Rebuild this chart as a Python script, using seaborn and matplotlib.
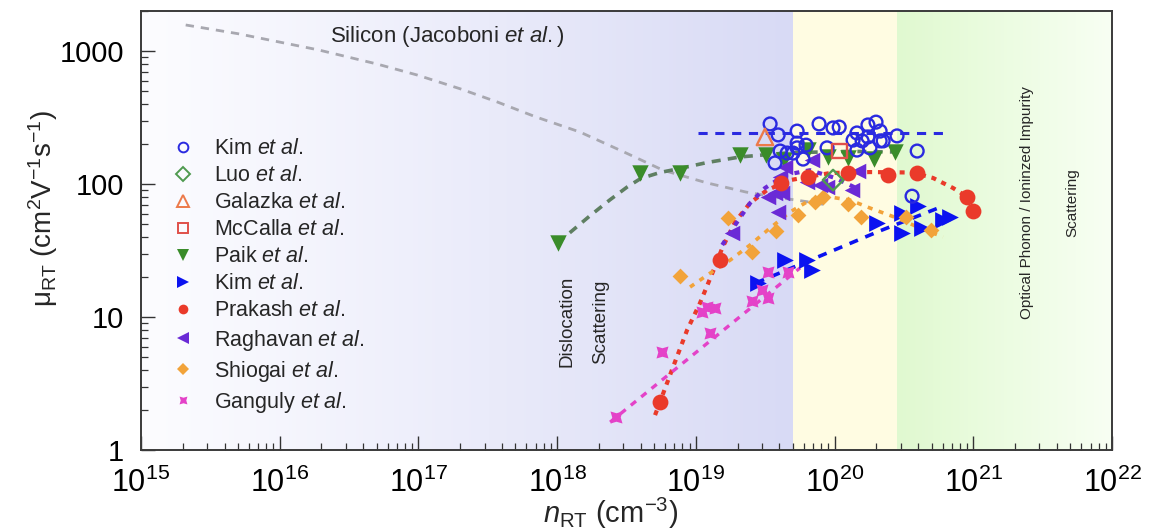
import numpy as np
import pandas as pd
import matplotlib
matplotlib.use("Agg")
import matplotlib.pyplot as plt
import seaborn as sns
from matplotlib.ticker import LogLocator, NullFormatter, FixedLocator, FixedFormatter
from matplotlib.lines import Line2D

# ---------------- data ----------------
si_n = [2.1e15, 5e15, 1.9e16, 5e16, 9.8e16, 2e17, 3.7e17, 7e17, 1.46e18, 3e18, 5.8e18, 1.2e19, 2.3e19, 4e19, 6.7e19, 9.3e19]
si_mu = [1570, 1350, 1020, 800, 660, 520, 414, 320, 246, 175, 127, 102, 87, 79, 73, 69]

kim1_n = [3.43e19, 3.92e19, 5.37e19, 5.37e19, 6.23e19, 5.37e19, 4.55e19, 4.05e19, 5.02e19,
          5.93e19, 3.72e19, 7.73e19, 9.75e19, 1.08e20, 1.74e20, 1.99e20, 2.13e20, 1.45e20,
          1.74e20, 2.82e20, 1.36e20, 1.58e20, 2.13e20, 2.24e20, 8.83e19, 1.45e20, 1.80e20,
          3.94e20, 3.62e20]
kim1_mu = [283, 234, 250, 203, 196, 187, 171, 177, 171,
           154, 144, 283, 264, 268, 278, 292, 250, 242,
           226, 230, 214, 211, 211, 211, 187, 180, 187,
           177, 81]
kim1_fit_n = [1.04e19, 6.05e20]
kim1_fit_mu = [242, 242]

luo_n = [9.75e19]
luo_mu = [107]
galazka_n = [3.15e19]
galazka_mu = [226]
mccalla_n = [1.08e20]
mccalla_mu = [177]

paik_n = [1.01e18, 3.96e18, 7.7e18, 2.08e19, 3.2e19, 4.3e19, 6.4e19, 9.0e19, 1.25e20, 1.93e20, 2.73e20]
paik_mu = [36, 121, 121, 165, 165, 151, 180, 160, 157, 155, 174]
paik_fit_n = [1.0e18, 1.2e18, 1.7e18, 2.4e18, 3.2e18, 4.0e18, 5.5e18, 7.7e18, 1.2e19, 2.1e19, 4.8e19, 1.29e20, 2.95e20]
paik_fit_mu = [36, 42, 57, 76, 95, 110, 122, 131, 145, 160, 172, 176, 174]

kim2_n = [2.81e19, 4.4e19, 6.34e19, 6.88e19, 2.02e20, 3.07e20, 3.07e20, 4.0e20, 4.27e20, 6.05e20, 6.8e20]
kim2_mu = [18.0, 26.8, 26.8, 22.6, 50.9, 60.5, 42.8, 68.4, 46.7, 53.6, 56.5]
kim2_fit_n = [2.7e19, 2.13e20, 5.8e20]
kim2_fit_mu = [18, 44.5, 67]

prakash_n = [5.5e18, 1.49e19, 4.11e19, 6.44e19, 1.25e20, 2.43e20, 3.94e20, 9.0e20, 9.97e20]
prakash_mu = [2.3, 26.8, 102, 113, 121, 117, 121, 80, 63]
prakash_fit_n = [5.08e18, 6.85e18, 8.65e18, 1.07e19, 1.33e19, 1.55e19, 1.92e19, 2.46e19, 3.26e19,
                 4.78e19, 9.29e19, 1.80e20, 3.68e20, 5.13e20, 7.15e20, 9.8e20, 1.03e21]
prakash_fit_mu = [1.83, 4.21, 7.98, 12.7, 22.0, 33.0, 52.0, 72.0, 90.0,
                  107, 121, 123, 122, 111, 93.3, 75.8, 61.6]

raghavan_n = [1.82e19, 3.32e19, 3.72e19, 4.19e19, 4.05e19, 4.4e19, 3.92e19, 6.88e19, 6.34e19,
              7.86e19, 8.83e19, 1.48e20, 1.34e20]
raghavan_mu = [42.8, 79.8, 85.6, 85.6, 113, 134, 61.6, 151, 104, 98.3, 94.9, 125, 90.2]
raghavan_fit_n = [1.55e19, 1.92e19, 2.46e19, 3.15e19, 4.4e19, 6.66e19, 1.01e20, 1.53e20]
raghavan_fit_mu = [34.8, 49.2, 71.9, 93.3, 117, 127, 111, 90.2]

shiogai_n = [7.69e18, 1.71e19, 2.54e19, 3.79e19, 5.46e19, 7.23e19, 8.26e19, 1.25e20, 1.55e20, 3.28e20, 4.97e20]
shiogai_mu = [20.3, 55.5, 30.8, 44.3, 58.5, 73.2, 79.8, 70.7, 56.5, 56.5, 45.1]
shiogai_fit_n = [9.08e18, 1.27e19, 1.77e19, 2.46e19, 3.43e19, 4.78e19, 6.66e19, 9.29e19, 1.29e20,
                 1.80e20, 2.82e20, 4.13e20, 6.05e20]
shiogai_fit_mu = [16.8, 21.4, 26.8, 34.8, 46.7, 61.6, 75.8, 79.8, 75.8, 66.0, 55.5, 46.7, 40.0]

ganguly_n = [2.66e18, 5.71e18, 1.11e19, 1.2e19, 1.37e19, 1.27e19, 2.54e19, 3.0e19, 3.32e19, 3.32e19, 4.62e19]
ganguly_mu = [1.77, 5.46, 10.9, 11.9, 11.7, 7.58, 13.2, 16.0, 13.9, 21.8, 21.8]
ganguly_fit_n = [2.41e18, 5.64e19]
ganguly_fit_mu = [1.62, 23.4]

legend_labels = ["Kim", "Luo", "Galazka", "McCalla", "Paik", "Kim", "Prakash", "Raghavan", "Shiogai", "Ganguly"]
x_ticks = [1e15, 1e16, 1e17, 1e18, 1e19, 1e20, 1e21, 1e22]
x_tick_labels = [r"$10^{15}$", r"$10^{16}$", r"$10^{17}$", r"$10^{18}$", r"$10^{19}$",
                 r"$10^{20}$", r"$10^{21}$", r"$10^{22}$"]
y_ticks = [1, 10, 100, 1000]
y_tick_labels = ["1", "10", "100", "1000"]

# ---------------- style ----------------
sns.set_style("ticks")
plt.rcParams["font.family"] = ["Liberation Sans", "DejaVu Sans"]
plt.rcParams["mathtext.fontset"] = "custom"
plt.rcParams["mathtext.rm"] = "Liberation Sans"
plt.rcParams["mathtext.it"] = "Liberation Sans:italic"
plt.rcParams["mathtext.bf"] = "Liberation Sans:bold"

W, H = 1151, 532
fig = plt.figure(figsize=(W / 100, H / 100), dpi=100)
L, R, T, B = 141, 1112, 11, 450
pos = [L / W, 1 - B / H, (R - L) / W, (B - T) / H]

# background gradient bands
bg = fig.add_axes(pos, zorder=0)
ncol = 1000
f = np.linspace(0, 1, ncol)
xb1 = (np.log10(5e19) - 15) / 7
xb2 = (np.log10(2.85e20) - 15) / 7
img = np.zeros((1, ncol, 3))
white = np.array([252, 252, 255]) / 255
lav = np.array([216, 218, 245]) / 255
yel = np.array([255, 252, 226]) / 255
g1 = np.array([224, 249, 208]) / 255
g2 = np.array([248, 255, 243]) / 255
for i, fi in enumerate(f):
    if fi < xb1:
        t = (fi / xb1) ** 1.1
        img[0, i] = white * (1 - t) + lav * t
    elif fi < xb2:
        img[0, i] = yel
    else:
        t = (fi - xb2) / (1 - xb2)
        img[0, i] = g1 * (1 - t) + g2 * t
bg.imshow(img, aspect="auto", extent=(0, 1, 0, 1), interpolation="nearest")
bg.set_axis_off()

ax = fig.add_axes(pos, zorder=1)
ax.patch.set_alpha(0)
ax.set_xscale("log")
ax.set_yscale("log")


def fitline(n, mu, color, dashes, lw):
    sns.lineplot(x=n, y=mu, ax=ax, color=color, sort=False, estimator=None, lw=lw, zorder=2)
    ln = ax.lines[-1]
    ln.set_dashes(dashes)
    ln.set_dash_capstyle("butt")
    ln.set_solid_joinstyle("round")


def pts(n, mu, color, marker, size, hollow=False, lw=1.6):
    sns.scatterplot(x=n, y=mu, ax=ax, marker=marker, s=size, color=color, linewidth=0, zorder=3)
    coll = ax.collections[-1]
    if hollow:
        coll.set_facecolor("none")
        coll.set_edgecolor(color)
        coll.set_linewidth(lw)


c_kim1 = "#2a2ae0"
c_luo = "#4f9a4f"
c_gal = "#ec7a4a"
c_mcc = "#e0504a"
c_paik = "#3a8c2a"
c_paikfit = "#5f7f62"
c_kim2 = "#0b12f0"
c_pra = "#ea3a2a"
c_rag = "#6a2ad6"
c_shi = "#f2a33a"
c_gan = "#e442c8"

# fit/guide lines
fitline(si_n, si_mu, "#a8a8b0", (3.0, 2.5), 2.0)
fitline(paik_fit_n, paik_fit_mu, c_paikfit, (2.5, 2.0), 2.6)
fitline(kim1_fit_n, kim1_fit_mu, c_kim1, (3.0, 2.5), 2.2)
fitline(kim2_fit_n, kim2_fit_mu, c_kim2, (2.5, 2.2), 2.6)
fitline(prakash_fit_n, prakash_fit_mu, c_pra, (1.2, 1.4), 3.0)
fitline(raghavan_fit_n, raghavan_fit_mu, c_rag, (1.2, 1.6), 3.0)
fitline(shiogai_fit_n, shiogai_fit_mu, c_shi, (1.4, 1.8), 2.6)
fitline(ganguly_fit_n, ganguly_fit_mu, c_gan, (2.0, 2.0), 2.4)

# markers
pts(paik_n, paik_mu, c_paik, "v", 140)
pts(kim2_n, kim2_mu, c_kim2, ">", 145)
pts(shiogai_n, shiogai_mu, c_shi, "D", 65)
pts(raghavan_n, raghavan_mu, c_rag, "<", 125)
pts(prakash_n, prakash_mu, c_pra, "o", 130)
pts(ganguly_n, ganguly_mu, c_gan, (4, 1, 45), 150)
pts(kim1_n, kim1_mu, c_kim1, "o", 85, hollow=True, lw=1.7)
pts(luo_n, luo_mu, c_luo, "D", 110, hollow=True, lw=1.7)
pts(galazka_n, galazka_mu, c_gal, "^", 140, hollow=True, lw=1.7)
pts(mccalla_n, mccalla_mu, c_mcc, "s", 115, hollow=True, lw=1.7)

# axes
ax.set_xlim(1e15, 1e22)
ax.set_ylim(1, 2000)
ax.xaxis.set_major_locator(FixedLocator(x_ticks))
ax.xaxis.set_major_formatter(FixedFormatter(x_tick_labels))
ax.yaxis.set_major_locator(FixedLocator(y_ticks))
ax.yaxis.set_major_formatter(FixedFormatter(y_tick_labels))
ax.xaxis.set_minor_locator(LogLocator(base=10, subs=np.arange(2, 10), numticks=20))
ax.yaxis.set_minor_locator(LogLocator(base=10, subs=np.arange(2, 10), numticks=20))
ax.xaxis.set_minor_formatter(NullFormatter())
ax.yaxis.set_minor_formatter(NullFormatter())
ax.tick_params(which="major", direction="in", length=10, width=1.0, colors="#333333",
               labelcolor="black", top=False, right=False)
ax.tick_params(which="minor", direction="in", length=5, width=0.9, colors="#333333",
               top=False, right=False)
ax.tick_params(axis="y", which="major", labelsize=21, pad=12)
ax.tick_params(axis="x", which="major", labelsize=22, pad=13)
for sp in ax.spines.values():
    sp.set_color("#3a3a3a")
    sp.set_linewidth(1.4)

ax.set_xlabel(r"$n_{\rm RT}$ (cm$^{-3}$)", fontsize=21)
ax.set_ylabel("\u03bc" + r"$_{\rm RT}$ (cm$^2$V$^{-1}$s$^{-1}$)", fontsize=20)
ax.xaxis.set_label_coords(0.484, -0.105)
ax.yaxis.set_label_coords(-0.083, 0.55)

# annotations
ax.text(0.195, 0.941, r"Silicon (Jacoboni $\mathit{et\ al.}$)", transform=ax.transAxes,
        fontsize=16, ha="left", va="center")
ax.text(0.456, 0.292, "Dislocation\nScattering", transform=ax.transAxes, rotation=90,
        fontsize=13.5, ha="center", va="center", multialignment="center", linespacing=2.25)
ax.text(0.936, 0.563, "Optical Phonon / Ioninzed Impurity\nScattering", transform=ax.transAxes,
        rotation=90, fontsize=11, ha="center", va="center", multialignment="center",
        linespacing=3.9)

# legend
handles = [
    Line2D([], [], ls="none", marker="o", ms=7, mfc="none", mec=c_kim1, mew=1.4),
    Line2D([], [], ls="none", marker="D", ms=7, mfc="none", mec=c_luo, mew=1.4),
    Line2D([], [], ls="none", marker="^", ms=8, mfc="none", mec=c_gal, mew=1.4),
    Line2D([], [], ls="none", marker="s", ms=7, mfc="none", mec=c_mcc, mew=1.4),
    Line2D([], [], ls="none", marker="v", ms=8, mfc=c_paik, mec=c_paik, mew=0),
    Line2D([], [], ls="none", marker=">", ms=8, mfc=c_kim2, mec=c_kim2, mew=0),
    Line2D([], [], ls="none", marker="o", ms=7, mfc=c_pra, mec=c_pra, mew=0),
    Line2D([], [], ls="none", marker="<", ms=8, mfc=c_rag, mec=c_rag, mew=0),
    Line2D([], [], ls="none", marker="D", ms=6, mfc=c_shi, mec=c_shi, mew=0),
    Line2D([], [], ls="none", marker=(4, 1, 45), ms=8, mfc=c_gan, mec=c_gan, mew=0),
]
labels = [nm + r" $\mathit{et\ al.}$" for nm in legend_labels]
ax.legend(handles, labels, loc="upper left", bbox_to_anchor=(0.033, 0.71), frameon=False,
          fontsize=15.5, handlelength=0.9, handletextpad=1.0, labelspacing=0.28,
          borderaxespad=0, borderpad=0)

fig.savefig("out.png", dpi=100)
